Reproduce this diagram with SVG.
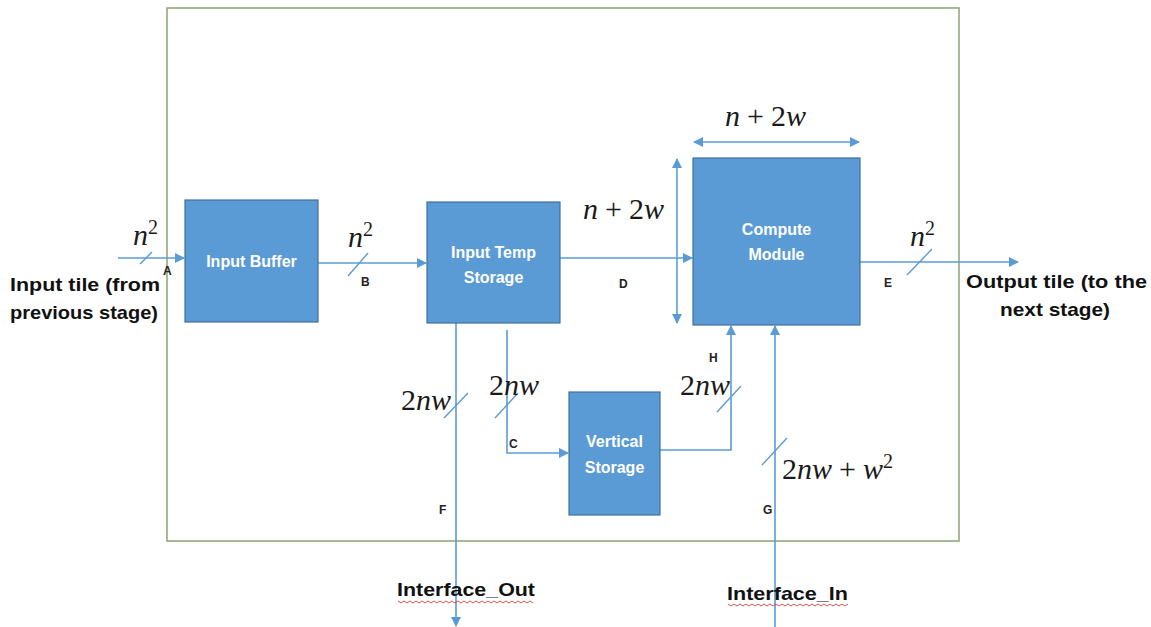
<svg xmlns="http://www.w3.org/2000/svg" width="1151" height="627" viewBox="0 0 1151 627">
<style>
.box{fill:#5b9bd5;stroke:#41719c;stroke-width:1.2}
.bt{font-family:"Liberation Sans",Arial,sans-serif;font-weight:bold;font-size:16px;fill:#ffffff;text-anchor:middle}
.ln{fill:none;stroke:#5b9bd5;stroke-width:1.6}
.sl{stroke:#5b9bd5;stroke-width:1.4}
.m{font-family:"Liberation Serif","Times New Roman",serif;font-style:italic;font-size:30px;fill:#1a1a1a}
.mu{font-style:normal}
.sup{font-size:20px;font-style:normal}
.lt{font-family:"Liberation Sans",Arial,sans-serif;font-weight:bold;font-size:12px;fill:#222}
.lab{font-family:"Liberation Sans",Arial,sans-serif;font-weight:bold;font-size:18.5px;fill:#111}
.sq{fill:none;stroke:#d04040;stroke-width:0.9}
</style>
<defs>
<marker id="ah" viewBox="0 0 10 10" refX="9" refY="5" markerWidth="10" markerHeight="10" markerUnits="userSpaceOnUse" orient="auto-start-reverse">
<path d="M0,0 L10,5 L0,10 z" fill="#5b9bd5"/>
</marker>
</defs>
<rect x="0" y="0" width="1151" height="627" fill="#ffffff"/>
<rect id="container" x="167" y="8" width="792" height="533" fill="none" stroke="#93a878" stroke-width="1.6"/>

<g id="connectors">
  <line class="ln" x1="118" y1="258" x2="184" y2="258" marker-end="url(#ah)"/>
  <line class="sl" x1="140" y1="264" x2="152" y2="252"/>
  <line class="ln" x1="318" y1="263" x2="426" y2="263" marker-end="url(#ah)"/>
  <line class="sl" x1="348" y1="276" x2="368" y2="253"/>
  <line class="ln" x1="560" y1="258" x2="692" y2="258" marker-end="url(#ah)"/>
  <line class="ln" x1="677" y1="159" x2="677" y2="323" marker-start="url(#ah)" marker-end="url(#ah)"/>
  <line class="ln" x1="694" y1="142" x2="859" y2="142" marker-start="url(#ah)" marker-end="url(#ah)"/>
  <line class="ln" x1="860" y1="262" x2="1018" y2="262" marker-end="url(#ah)"/>
  <line class="sl" x1="907" y1="275" x2="932" y2="249"/>
  <line class="ln" x1="456" y1="323" x2="456" y2="626" marker-end="url(#ah)"/>
  <line class="sl" x1="444" y1="418" x2="468" y2="393"/>
  <polyline class="ln" points="507,330 507,453 568,453" marker-end="url(#ah)"/>
  <line class="sl" x1="495" y1="418" x2="518" y2="393"/>
  <polyline class="ln" points="660,450 731,450 731,326" marker-end="url(#ah)"/>
  <line class="sl" x1="717" y1="412" x2="741" y2="386"/>
  <line class="ln" x1="775" y1="627" x2="775" y2="326" marker-end="url(#ah)"/>
  <line class="sl" x1="762" y1="465" x2="787" y2="438"/>
</g>

<g id="input-buffer">
  <rect class="box" x="185" y="200" width="133" height="122"/>
  <text class="bt" x="251.5" y="267">Input Buffer</text>
</g>
<g id="input-temp-storage">
  <rect class="box" x="427" y="202" width="133" height="121"/>
  <text class="bt" x="493.5" y="258">Input Temp</text>
  <text class="bt" x="493.5" y="283">Storage</text>
</g>
<g id="compute-module">
  <rect class="box" x="693" y="158" width="167" height="167"/>
  <text class="bt" x="776.5" y="235">Compute</text>
  <text class="bt" x="776.5" y="260">Module</text>
</g>
<g id="vertical-storage">
  <rect class="box" x="569" y="392" width="91" height="123"/>
  <text class="bt" x="614.5" y="447">Vertical</text>
  <text class="bt" x="614.5" y="473">Storage</text>
</g>

<g id="labels">
  <text class="m" x="133" y="245">n<tspan class="sup" dy="-11">2</tspan></text>
  <text class="lt" x="163" y="275">A</text>
  <text class="lab" x="10" y="291" textLength="150" lengthAdjust="spacingAndGlyphs">Input tile (from</text>
  <text class="lab" x="10" y="319" textLength="148" lengthAdjust="spacingAndGlyphs">previous stage)</text>

  <text class="m" x="348" y="247">n<tspan class="sup" dy="-11">2</tspan></text>
  <text class="lt" x="361" y="286">B</text>

  <text class="m" x="583" y="219">n<tspan class="mu" dx="7">+</tspan><tspan class="mu" dx="7">2</tspan>w</text>
  <text class="lt" x="619" y="288">D</text>

  <text class="m" x="725" y="126">n<tspan class="mu" dx="7">+</tspan><tspan class="mu" dx="7">2</tspan>w</text>

  <text class="m" x="910" y="246">n<tspan class="sup" dy="-11">2</tspan></text>
  <text class="lt" x="884" y="287">E</text>
  <text class="lab" x="966" y="288" textLength="181" lengthAdjust="spacingAndGlyphs">Output tile (to the</text>
  <text class="lab" x="1000" y="316" textLength="110" lengthAdjust="spacingAndGlyphs">next stage)</text>

  <text class="m" x="401" y="410"><tspan class="mu">2</tspan>nw</text>
  <text class="lt" x="439" y="514">F</text>

  <text class="m" x="489" y="395"><tspan class="mu">2</tspan>nw</text>
  <text class="lt" x="509" y="448">C</text>

  <text class="m" x="680" y="395"><tspan class="mu">2</tspan>nw</text>
  <text class="lt" x="709" y="362">H</text>

  <text class="m" x="782" y="479"><tspan class="mu">2</tspan>nw<tspan class="mu" dx="7">+</tspan><tspan dx="7">w</tspan><tspan class="sup" dy="-11">2</tspan></text>
  <text class="lt" x="763" y="514">G</text>

  <text class="lab" x="397" y="596" textLength="138" lengthAdjust="spacingAndGlyphs">Interface_Out</text>
  <path class="sq" d="M398,601 l3,2 l3,-2 l3,2 l3,-2 l3,2 l3,-2 l3,2 l3,-2 l3,2 l3,-2 l3,2 l3,-2 l3,2 l3,-2 l3,2 l3,-2 l3,2 l3,-2 l3,2 l3,-2 l3,2 l3,-2 l3,2 l3,-2 l3,2 l3,-2 l3,2 l3,-2 l3,2 l3,-2 l3,2 l3,-2 l3,2 l3,-2 l3,2 l3,-2 l3,2 l3,-2 l3,2 l3,-2 l3,2 l3,-2 l3,2 l3,-2 l3,2"/>
  <text class="lab" x="727" y="600" textLength="121" lengthAdjust="spacingAndGlyphs">Interface_In</text>
  <path class="sq" d="M728,604 l3,2 l3,-2 l3,2 l3,-2 l3,2 l3,-2 l3,2 l3,-2 l3,2 l3,-2 l3,2 l3,-2 l3,2 l3,-2 l3,2 l3,-2 l3,2 l3,-2 l3,2 l3,-2 l3,2 l3,-2 l3,2 l3,-2 l3,2 l3,-2 l3,2 l3,-2 l3,2 l3,-2 l3,2 l3,-2 l3,2 l3,-2 l3,2 l3,-2 l3,2 l3,-2 l3,2 l3,-2"/>
</g>
</svg>
